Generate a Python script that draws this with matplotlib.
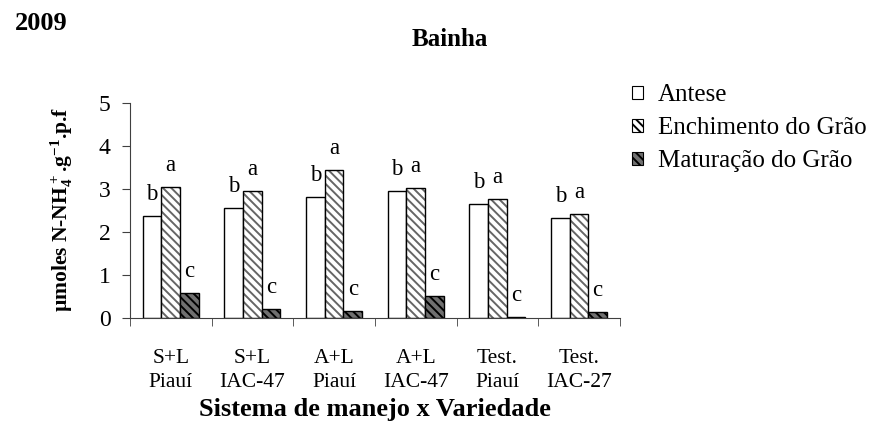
import matplotlib
matplotlib.use("Agg")
import matplotlib.pyplot as plt
import numpy as np
from matplotlib.patches import Patch

plt.rcParams['font.family'] = ['Liberation Serif', 'DejaVu Serif']
plt.rcParams['mathtext.fontset'] = 'custom'
plt.rcParams['mathtext.rm'] = 'Liberation Serif'
plt.rcParams['mathtext.bf'] = 'Liberation Serif:bold'
plt.rcParams['hatch.linewidth'] = 1.4

categories = ['S+L\nPiauí', 'S+L\nIAC-47', 'A+L\nPiauí', 'A+L\nIAC-47', 'Test.\nPiauí', 'Test.\nIAC-27']
series = ['Antese', 'Enchimento do Grão', 'Maturação do Grão']
antese = [2.38, 2.55, 2.81, 2.94, 2.65, 2.32]
enchimento = [3.04, 2.94, 3.43, 3.01, 2.76, 2.41]
maturacao = [0.59, 0.20, 0.17, 0.51, 0.03, 0.13]
letters = ['b', 'a', 'c']

values = [antese, enchimento, maturacao]
hatches = ['', '\\\\\\\\', '\\\\\\\\']
hatch_cols = ['white', '#666666', 'black']
face_cols = ['white', 'white', '#707070']

fig = plt.figure(figsize=(8.78, 4.23), dpi=100)
ax = fig.add_axes([0.148, 0.248, 0.558, 0.509])

x = np.arange(len(categories))
w = 0.228
for i, vals in enumerate(values):
    pos = x + (i - 1) * w
    # hatch layer, then black outline
    ax.bar(pos, vals, w, color=face_cols[i], edgecolor=hatch_cols[i], hatch=hatches[i], linewidth=0)
    ax.bar(pos, vals, w, fill=False, edgecolor='black', linewidth=1.0)
    for p, v in zip(pos, vals):
        ax.text(p, v + 0.5, letters[i], ha='center', va='center', fontsize=16.5)

ax.set_xlim(-0.5, len(categories) - 0.5)
ax.set_ylim(0, 5)
ax.set_yticks(range(0, 6))
ax.set_xticks(x)
ax.set_xticklabels(categories, fontsize=15.5, linespacing=1.35)
ax.set_xticks(np.arange(-0.5, len(categories)), minor=True)
ax.tick_params(axis='x', which='major', length=0, pad=22)
ax.tick_params(axis='x', which='minor', length=6, direction='out', color='#404040')
ax.tick_params(axis='y', length=6, direction='out', labelsize=17, pad=8, color='#404040')
for s in ['top', 'right']:
    ax.spines[s].set_visible(False)
for s in ['left', 'bottom']:
    ax.spines[s].set_color('#404040')

ax.set_xlabel('Sistema de manejo x Variedade', fontsize=19, fontweight='bold')
ax.xaxis.set_label_coords(0.5, -0.425)
ax.xaxis.label.set_va('center')
ax.set_ylabel(r'µmoles N-NH$\mathbf{_4^+}$.g$\mathbf{^{-1}}$.p.f', fontsize=15.5, fontweight='bold', va='center')
ax.yaxis.set_label_coords(-0.139, 0.507)

handles = [Patch(facecolor=face_cols[i], edgecolor='black', hatch=hatches[i], linewidth=0.8) for i in range(3)]
leg = fig.legend(handles, series, loc='upper left', bbox_to_anchor=(0.72, 0.8015), frameon=False,
                 borderpad=0, borderaxespad=0,
                 fontsize=18, handlelength=0.42, handleheight=0.42, handletextpad=0.6, labelspacing=0.44)

fig.text(15 / 878, 1 - 23 / 423, '2009', fontsize=19, fontweight='bold', va='center')
fig.text(450 / 878, 1 - 40 / 423, 'Bainha', fontsize=18, fontweight='bold', ha='center', va='center')

fig.savefig('out.png', dpi=100)
